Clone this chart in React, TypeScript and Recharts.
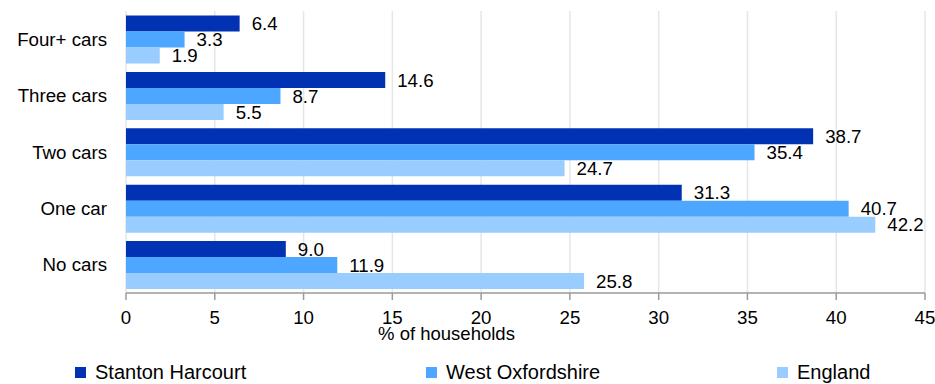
import { BarChart, Bar, XAxis, YAxis, CartesianGrid, LabelList, Label } from 'recharts';

const categories = ['Four+ cars', 'Three cars', 'Two cars', 'One car', 'No cars'];
const stantonHarcourt = [6.4, 14.6, 38.7, 31.3, 9.0];
const westOxfordshire = [3.3, 8.7, 35.4, 40.7, 11.9];
const england = [1.9, 5.5, 24.7, 42.2, 25.8];
const xTicks = [0, 5, 10, 15, 20, 25, 30, 35, 40, 45];
const bandEdges = [0, 1, 2, 3, 4, 5];

const series = [
  { key: 'stanton', name: 'Stanton Harcourt', color: '#0232B4' },
  { key: 'westOx', name: 'West Oxfordshire', color: '#4DA6FF' },
  { key: 'england', name: 'England', color: '#99CCFF' },
];

const data = categories.map((c, i) => ({
  category: c,
  stanton: stantonHarcourt[i],
  westOx: westOxfordshire[i],
  england: england[i],
}));

const FONT = '"Liberation Sans", Arial, sans-serif';
const AXIS = '#9a9a9a';
const FS = 18.7;

// axis title sits left of the plot centre in the original
const AxisTitle = (props: any) => {
  const vb = props.viewBox || {};
  const cx = vb.x + vb.width / 2 - 79;
  return (
    <text x={cx} y={340} textAnchor="middle" fill="#000" fontSize={18.5} fontFamily={FONT}>
      % of households
    </text>
  );
};

export default function App() {
  return (
    <div style={{ position: 'absolute', left: 0, top: 0, width: 935, height: 384, fontFamily: FONT, background: '#fff', overflow: 'hidden' }}>
      <BarChart
        width={935}
        height={384}
        data={data}
        layout="vertical"
        barCategoryGap="8%"
        barGap={0}
        margin={{ top: 11, right: 10, bottom: 0, left: 0 }}
      >
        <CartesianGrid horizontal={false} stroke="#e6e6e6" strokeWidth={1.5} />
        <XAxis
          type="number"
          domain={[0, 45]}
          ticks={xTicks}
          height={91}
          stroke={AXIS}
          strokeWidth={1.5}
          tickSize={7}
          tickMargin={11}
          tick={{ fill: '#000', fontSize: FS, fontFamily: FONT }}
        >
          <Label content={<AxisTitle />} />
        </XAxis>
        <YAxis
          yAxisId="edges"
          type="number"
          domain={[0, 5]}
          ticks={bandEdges}
          width={0}
          stroke={AXIS}
          strokeWidth={1.5}
          tickSize={6}
          tickFormatter={() => ''}
        />
        <YAxis
          yAxisId="cat"
          type="category"
          dataKey="category"
          width={126}
          axisLine={false}
          tickLine={false}
          tickSize={0}
          tickMargin={19}
          tick={{ fill: '#000', fontSize: FS, fontFamily: FONT }}
        />
        {series.map((s) => (
          <Bar key={s.key} yAxisId="cat" dataKey={s.key} name={s.name} fill={s.color} isAnimationActive={false}>
            <LabelList
              dataKey={s.key}
              position="right"
              offset={12}
              fill="#000"
              fontSize={FS}
              fontFamily={FONT}
              formatter={(v: any) => Number(v).toFixed(1)}
            />
          </Bar>
        ))}
      </BarChart>
      <div style={{ position: 'absolute', top: 361, left: 75, display: 'flex', fontSize: 20, lineHeight: '23px', color: '#000' }}>
        {series.map((s) => (
          <div key={s.key} style={{ width: 351, display: 'flex', alignItems: 'center' }}>
            <span style={{ display: 'inline-block', width: 11, height: 11, background: s.color, marginRight: 9 }} />
            <span>{s.name}</span>
          </div>
        ))}
      </div>
    </div>
  );
}
